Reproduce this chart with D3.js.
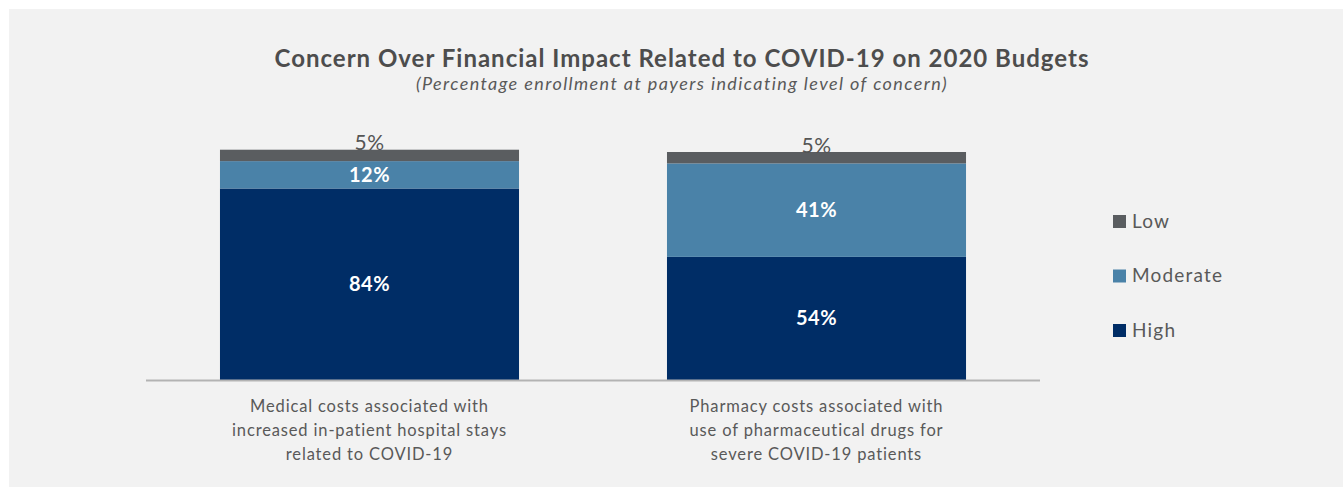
<!DOCTYPE html>
<html>
<head>
<meta charset="utf-8">
<script src="https://cdn.jsdelivr.net/npm/d3@7"></script>
<style>
  body { margin: 0; background: #ffffff; }
  svg { display: block; }
</style>
</head>
<body>
<div id="chart"></div>
<script>
// chart data
var categories = [
  ["Medical costs associated with", "increased in-patient hospital stays", "related to COVID-19"],
  ["Pharmacy costs associated with", "use of pharmaceutical drugs for", "severe COVID-19 patients"]
];
var levels = ["High", "Moderate", "Low"];
var highValues = [84, 54];
var moderateValues = [12, 41];
var lowValues = [5, 5];
var legendOrder = ["Low", "Moderate", "High"];

var colors = {"High": "#002d66", "Moderate": "#4a82a8", "Low": "#5a5d60"};

// svg size
var w_svg = 1343;
var h_svg = 487;
var textGrey = "#595959";
var font = "Lato, 'Open Sans', sans-serif";

var svg = d3.select("#chart")
  .append("svg")
    .attr("width", w_svg)
    .attr("height", h_svg);

// grey panel
svg.append("rect")
  .attr("x", 9).attr("y", 9)
  .attr("width", w_svg - 9).attr("height", h_svg - 9)
  .attr("fill", "#f2f2f2");

// build rows for stacking
var rows = categories.map(function(c, i) {
  return {key: i, High: highValues[i], Moderate: moderateValues[i], Low: lowValues[i]};
});
var series = d3.stack().keys(levels)(rows);

// scales
var xScale = d3.scaleBand()
  .domain(d3.range(categories.length))
  .range([146, 1040])
  .paddingInner(0.331)
  .paddingOuter(0.1655);

var yScale = d3.scaleLinear().domain([0, 100]).range([380, 152]);

// bars
var groups = svg.selectAll("g.layer")
  .data(series)
  .enter()
  .append("g")
    .attr("class", "layer")
    .attr("fill", function(d) { return colors[d.key]; });

groups.selectAll("rect")
  .data(function(d) { return d; })
  .enter()
  .append("rect")
    .attr("x", function(d, i) { return xScale(i); })
    .attr("y", function(d) { return yScale(d[1]); })
    .attr("width", xScale.bandwidth())
    .attr("height", function(d) { return yScale(d[0]) - yScale(d[1]); });

// value labels
series.forEach(function(s) {
  s.forEach(function(d, i) {
    var val = d[1] - d[0];
    var isLow = s.key === "Low";
    svg.append("text")
      .attr("x", xScale(i) + xScale.bandwidth() / 2)
      .attr("y", isLow ? yScale(d[1]) + 0.5 : (yScale(d[0]) + yScale(d[1])) / 2)
      .attr("dy", isLow ? "0" : "0.35em")
      .attr("text-anchor", "middle")
      .style("font-family", font)
      .style("font-size", isLow ? "21px" : "20px")
      .style("letter-spacing", "0.5px")
      .style("font-weight", isLow ? "normal" : "bold")
      .attr("fill", isLow ? "#555555" : "#ffffff")
      .text(val + "%");
  });
});

// x axis line
svg.append("line")
  .attr("x1", 146).attr("x2", 1040)
  .attr("y1", 380.5).attr("y2", 380.5)
  .attr("stroke", "#b3b3b3")
  .attr("stroke-width", 2);

// category labels
categories.forEach(function(lines, i) {
  var t = svg.append("text")
    .attr("text-anchor", "middle")
    .style("font-family", font)
    .style("font-size", "16.5px")
    .style("letter-spacing", "0.85px")
    .attr("fill", textGrey);
  lines.forEach(function(l, j) {
    t.append("tspan")
      .attr("x", xScale(i) + xScale.bandwidth() / 2)
      .attr("y", 412 + j * 24)
      .text(l);
  });
});

// title
svg.append("text")
  .attr("x", 682).attr("y", 67)
  .attr("text-anchor", "middle")
  .style("font-family", font)
  .style("font-size", "24px")
  .style("letter-spacing", "1px")
  .style("font-weight", "bold")
  .attr("fill", "#4d4d4d")
  .text("Concern Over Financial Impact Related to COVID-19 on 2020 Budgets");

svg.append("text")
  .attr("x", 682).attr("y", 90)
  .attr("text-anchor", "middle")
  .style("font-family", font)
  .style("font-size", "18px")
  .style("letter-spacing", "1.4px")
  .style("font-style", "italic")
  .attr("fill", textGrey)
  .text("(Percentage enrollment at payers indicating level of concern)");

// legend
var legend = svg.selectAll("g.legend")
  .data(legendOrder)
  .enter()
  .append("g")
    .attr("class", "legend")
    .attr("transform", function(d, i) { return "translate(1113," + (221 + i * 54.5) + ")"; });

legend.append("rect")
  .attr("x", 0).attr("y", -6)
  .attr("width", 13).attr("height", 13)
  .attr("fill", function(d) { return colors[d]; });

legend.append("text")
  .attr("x", 19).attr("y", 0)
  .attr("dy", "0.35em")
  .style("font-family", font)
  .style("font-size", "19px")
  .style("letter-spacing", "1.2px")
  .attr("fill", textGrey)
  .text(function(d) { return d; });
</script>
</body>
</html>
